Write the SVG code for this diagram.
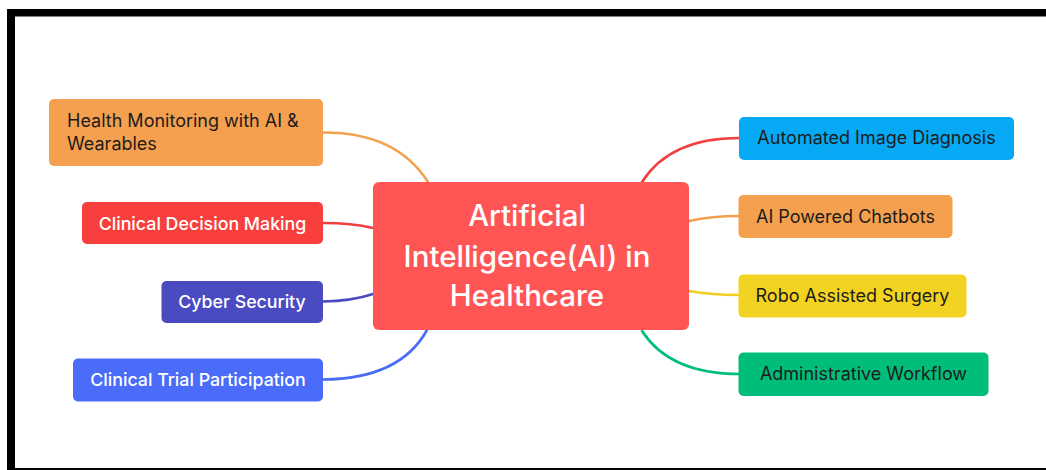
<svg xmlns="http://www.w3.org/2000/svg" width="1046" height="470" viewBox="0 0 1046 470">
<style>
  text { font-family: Inter, "Liberation Sans", sans-serif; }
  .lbl { font-size: 18px; fill: #1c1c1c; }
  .lblw { font-size: 17.8px; fill: #ffffff; font-weight: 500; }
  .mid { text-anchor: middle; }
  .ctr { font-size: 29.5px; fill: #ffffff; font-weight: 500; text-anchor: middle; }
  .conn path { fill: none; stroke-width: 2.6; stroke-linecap: round; }
</style>
<rect x="0" y="0" width="1046" height="470" fill="#ffffff"/>
<g id="frame" fill="#000000">
  <rect x="7" y="9" width="1039" height="7.5"/>
  <rect x="7" y="9" width="8" height="461"/>
  <rect x="7" y="468" width="1039" height="2"/>
</g>
<g id="connectors" class="conn">
  <path d="M323,132.5 Q396,132 428,182" stroke="#F5A04E"/>
  <path d="M323,223 Q352,223 373,228" stroke="#F04040"/>
  <path d="M323,301.5 Q352,301 373,294" stroke="#4B4BC1"/>
  <path d="M323,379.5 Q400,379 427,330" stroke="#4A6CF7"/>
  <path d="M642,182 Q670,138 739,138" stroke="#F04040"/>
  <path d="M689,221 Q712,216 739,216" stroke="#F5A04E"/>
  <path d="M689,291 Q712,295 739,295" stroke="#F2CF22"/>
  <path d="M642,331 Q670,374 739,374" stroke="#00BD7A"/>
</g>
<g id="center">
  <rect x="373" y="182" width="316" height="148" rx="6" fill="#FF5555"/>
  <text class="ctr" x="527" y="226">Artificial</text>
  <text class="ctr" x="527" y="266.5">Intelligence(AI) in</text>
  <text class="ctr" x="527" y="306">Healthcare</text>
</g>
<g id="health-monitoring">
  <rect x="49" y="99" width="274" height="67" rx="5" fill="#F5A04E"/>
  <text class="lbl" x="67" y="126.5">Health Monitoring with AI &amp;</text>
  <text class="lbl" x="67" y="150">Wearables</text>
</g>
<g id="clinical-decision">
  <rect x="82" y="202" width="241" height="42" rx="5" fill="#F93F3D"/>
  <text class="lblw mid" x="202.5" y="229.5">Clinical Decision Making</text>
</g>
<g id="cyber-security">
  <rect x="161.5" y="281" width="161.5" height="42" rx="5" fill="#4B4BC1"/>
  <text class="lblw mid" x="242" y="308">Cyber Security</text>
</g>
<g id="clinical-trial">
  <rect x="73" y="358.5" width="250" height="43" rx="5" fill="#4A6CF8"/>
  <text class="lblw mid" x="198" y="386">Clinical Trial Participation</text>
</g>
<g id="image-diagnosis">
  <rect x="739" y="117" width="275" height="43" rx="5" fill="#05A9F4"/>
  <text class="lbl mid" x="876.5" y="144">Automated Image Diagnosis</text>
</g>
<g id="chatbots">
  <rect x="738.5" y="195" width="214" height="43" rx="5" fill="#F5A04E"/>
  <text class="lbl mid" x="845.5" y="223">AI Powered Chatbots</text>
</g>
<g id="robo-surgery">
  <rect x="738.5" y="274.5" width="228" height="43" rx="5" fill="#F3D322"/>
  <text class="lbl mid" x="852.5" y="301.5">Robo Assisted Surgery</text>
</g>
<g id="admin-workflow">
  <rect x="738.5" y="352.5" width="250" height="43.5" rx="5" fill="#00BD7A"/>
  <text class="lbl mid" x="863.5" y="380">Administrative Workflow</text>
</g>
</svg>
